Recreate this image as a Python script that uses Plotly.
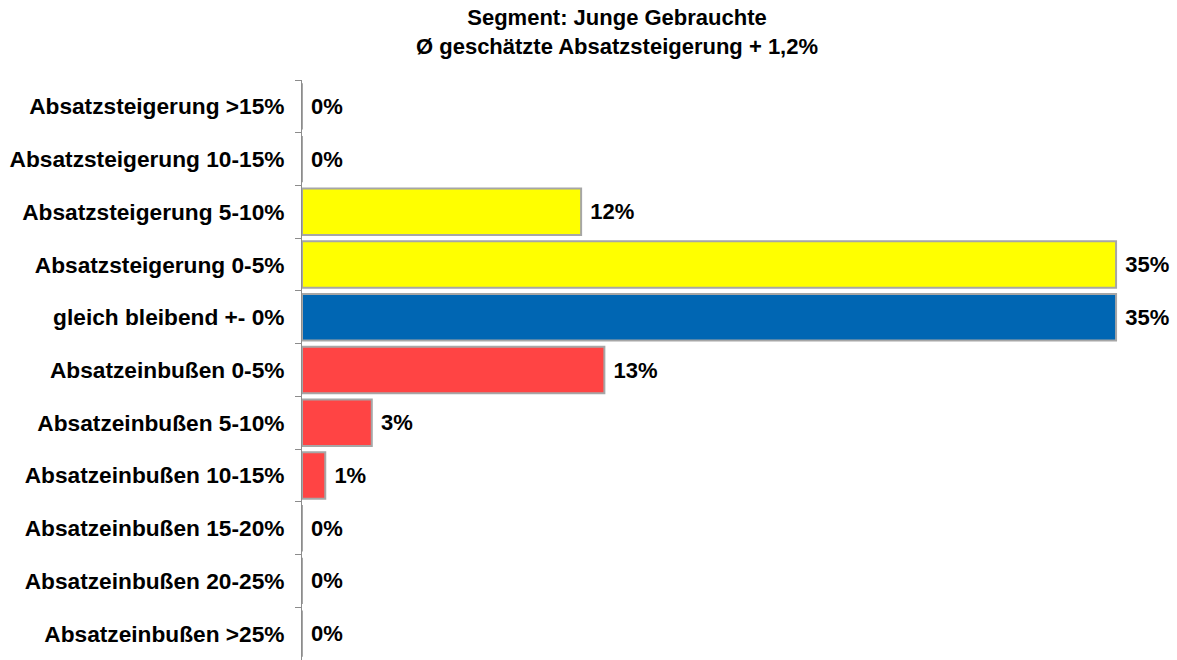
import plotly.graph_objects as go

# Antwortkategorien (von oben nach unten) und Anteile in Prozent
categories = [
    "Absatzsteigerung >15%",
    "Absatzsteigerung 10-15%",
    "Absatzsteigerung 5-10%",
    "Absatzsteigerung 0-5%",
    "gleich bleibend +- 0%",
    "Absatzeinbußen 0-5%",
    "Absatzeinbußen 5-10%",
    "Absatzeinbußen 10-15%",
    "Absatzeinbußen 15-20%",
    "Absatzeinbußen 20-25%",
    "Absatzeinbußen >25%",
]
shares = [0, 0, 12, 35, 35, 13, 3, 1, 0, 0, 0]
bar_colors = [
    "#FFFF00", "#FFFF00", "#FFFF00", "#FFFF00",
    "#0066B3",
    "#FF4444", "#FF4444", "#FF4444", "#FF4444", "#FF4444", "#FF4444",
]
title_lines = ["Segment: Junge Gebrauchte", "Ø geschätzte Absatzsteigerung + 1,2%"]

FONT = "Liberation Sans, Arial, sans-serif"
FSIZE = 22

fig = go.Figure(
    go.Bar(
        x=shares,
        y=categories,
        orientation="h",
        marker=dict(color=bar_colors, line=dict(color="#A6A6A6", width=2)),
        width=0.88,
        text=[f"<b> {v}%</b>" for v in shares],
        textposition="outside",
        textfont=dict(family=FONT, size=FSIZE, color="#000000"),
        cliponaxis=False,
        hoverinfo="skip",
    )
)

fig.update_layout(
    width=1177,
    height=660,
    paper_bgcolor="white",
    plot_bgcolor="white",
    margin=dict(l=302, r=10, t=80, b=0),
    showlegend=False,
    font=dict(family=FONT, color="#000000"),
    annotations=[
        dict(
            text="<b>" + "<br>".join(title_lines) + "</b>",
            xref="paper",
            yref="paper",
            x=0.364,
            y=1.0836,
            xanchor="center",
            yanchor="middle",
            showarrow=False,
            align="center",
            font=dict(family=FONT, size=FSIZE, color="#000000"),
        )
    ],
)

fig.update_xaxes(
    range=[0, 37.19],
    visible=False,
    showgrid=False,
    zeroline=False,
)

fig.update_yaxes(
    autorange="reversed",
    showgrid=False,
    zeroline=False,
    showline=True,
    linecolor="#8C8C8C",
    linewidth=1,
    ticks="outside",
    tickson="boundaries",
    ticklen=6,
    tickcolor="#8C8C8C",
    tickfont=dict(family=FONT, size=22.7, color="#000000"),
    tickvals=categories,
    ticktext=[f"<b>{c}</b>" for c in categories],
    ticklabelstandoff=12,
)

fig.write_html("out.html")
